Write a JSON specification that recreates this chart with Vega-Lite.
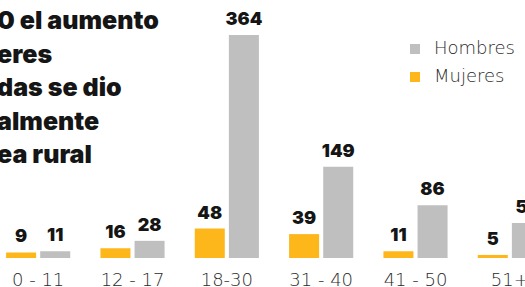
{
  "$schema": "https://vega.github.io/schema/vega-lite/v6.json",
  "width": 525,
  "height": 258,
  "autosize": "none",
  "padding": {"left": 0, "top": 0, "right": 0, "bottom": 29},
  "background": "white",
  "title": {
    "text": ["0 el aumento", "eres", "das se dio", "almente", "ea rural"],
    "anchor": "start",
    "frame": "group",
    "font": "Inter",
    "fontSize": 25,
    "fontWeight": 900,
    "color": "#151515",
    "lineHeight": 33.5,
    "baseline": "top",
    "orient": "top",
    "offset": 0,
    "dy": 168,
    "dx": -3
  },
  "data": {
    "values": [
      {"edad": "0 - 11", "sexo": "Mujeres", "n": 9},
      {"edad": "0 - 11", "sexo": "Hombres", "n": 11},
      {"edad": "12 - 17", "sexo": "Mujeres", "n": 16},
      {"edad": "12 - 17", "sexo": "Hombres", "n": 28},
      {"edad": "18-30", "sexo": "Mujeres", "n": 48},
      {"edad": "18-30", "sexo": "Hombres", "n": 364},
      {"edad": "31 - 40", "sexo": "Mujeres", "n": 39},
      {"edad": "31 - 40", "sexo": "Hombres", "n": 149},
      {"edad": "41 - 50", "sexo": "Mujeres", "n": 11},
      {"edad": "41 - 50", "sexo": "Hombres", "n": 86},
      {"edad": "51+", "sexo": "Mujeres", "n": 5},
      {"edad": "51+", "sexo": "Hombres", "n": 57}
    ]
  },
  "encoding": {
    "x": {
      "field": "edad",
      "type": "nominal",
      "sort": null,
      "scale": {"range": [-9, 557], "paddingInner": 0.32, "paddingOuter": 0.16},
      "axis": {
        "title": null,
        "domain": false,
        "ticks": false,
        "labelAngle": 0,
        "labelFont": "DejaVu Sans",
        "labelFontSize": 18,
        "labelFontWeight": 300,
        "labelColor": "#2a2a2a",
        "labelPadding": 13
      }
    },
    "xOffset": {
      "field": "sexo",
      "type": "nominal",
      "sort": ["Mujeres", "Hombres"],
      "scale": {"paddingInner": 0.12, "paddingOuter": 0}
    },
    "y": {
      "field": "n",
      "type": "quantitative",
      "scale": {"domain": [0, 421], "nice": false},
      "axis": null
    }
  },
  "layer": [
    {
      "mark": {"type": "bar"},
      "encoding": {
        "color": {
          "field": "sexo",
          "type": "nominal",
          "scale": {"domain": ["Hombres", "Mujeres"], "range": ["#bfbfbf", "#fdb71b"]},
          "legend": {
            "title": null,
            "orient": "none",
            "legendX": 406,
            "legendY": 40,
            "symbolType": "square",
            "symbolSize": 100,
            "symbolStrokeWidth": 0,
            "labelFont": "DejaVu Sans",
            "labelFontSize": 18,
            "labelFontWeight": 300,
            "labelColor": "#2a2a2a",
            "labelOffset": 10,
            "rowPadding": 10
          }
        }
      }
    },
    {
      "mark": {
        "type": "text",
        "baseline": "bottom",
        "dy": -6,
        "font": "Inter",
        "fontSize": 18,
        "fontWeight": 900,
        "color": "#151515"
      },
      "encoding": {
        "text": {"field": "n", "type": "quantitative"}
      }
    }
  ],
  "config": {
    "view": {"stroke": null},
    "axis": {"grid": false}
  }
}
